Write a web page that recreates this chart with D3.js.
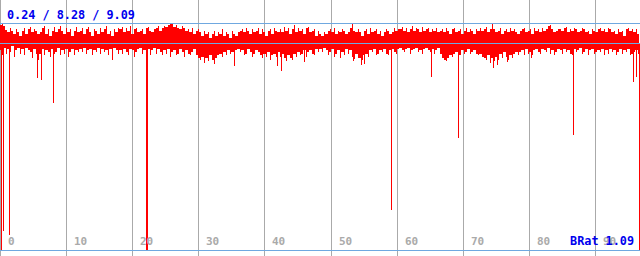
<!DOCTYPE html>
<html>
<head>
<meta charset="utf-8">
<script src="https://cdn.jsdelivr.net/npm/d3@7"></script>
<style>
  html, body { margin: 0; padding: 0; background: #fff; }
  svg { display: block; }
  text { font-family: "DejaVu Sans Mono", monospace; font-weight: bold; }
</style>
</head>
<body>
<div id="chart"></div>
<script>
// summary numbers shown top-left: min / avg / max
const stats = [0.24, 8.28, 9.09];
const bratLabel = 'BRat 1.09';
const xTicks = [0, 10, 20, 30, 40, 50, 60, 70, 80, 90];
const xMax = 96.8;

// per-sample high / low envelope of the signal
const sampleHi = [
  9.02, 9.04, 8.99, 8.81, 8.72, 8.90, 8.78, 8.65, 8.84, 8.72, 8.58, 8.78, 8.90, 8.65, 8.84, 8.95, 8.72, 8.84, 8.78, 8.65,
  8.72, 8.90, 8.99, 8.65, 8.84, 8.58, 8.78, 8.95, 8.72, 8.84, 8.99, 8.78, 8.65, 8.90, 8.72, 8.84, 8.58, 8.78, 8.95, 8.72,
  8.78, 8.90, 8.65, 8.84, 8.95, 8.72, 8.58, 8.84, 8.78, 8.65, 8.90, 8.72, 8.84, 8.99, 8.65, 8.78, 8.58, 8.84, 8.72, 8.90,
  8.84, 8.95, 8.72, 8.90, 8.78, 8.99, 8.65, 8.84, 8.90, 8.72, 8.78, 8.84, 8.65, 8.90, 8.95, 8.78, 8.72, 8.84, 8.90, 8.99,
  8.78, 8.90, 8.99, 8.95, 9.02, 9.08, 9.05, 8.95, 9.02, 8.90, 8.84, 8.99, 8.90, 8.78, 8.84, 8.72, 8.90, 8.65, 8.78, 8.84,
  8.72, 8.58, 8.78, 8.65, 8.72, 8.52, 8.65, 8.78, 8.58, 8.72, 8.65, 8.84, 8.58, 8.72, 8.65, 8.52, 8.78, 8.65, 8.58, 8.72,
  8.78, 8.84, 8.72, 8.90, 8.78, 8.65, 8.84, 8.72, 8.78, 8.90, 8.65, 8.84, 8.72, 8.58, 8.78, 8.84, 8.65, 8.90, 8.78, 8.72,
  8.84, 8.72, 8.95, 8.78, 8.90, 8.65, 8.84, 9.02, 8.72, 8.90, 8.78, 8.84, 8.65, 8.90, 8.95, 8.72, 8.78, 8.84, 8.58, 8.78,
  8.65, 8.58, 8.72, 8.65, 8.78, 8.84, 8.72, 8.90, 8.65, 8.78, 8.72, 8.84, 8.78, 8.65, 8.72, 8.90, 9.05, 8.78, 8.72, 8.84,
  8.72, 8.58, 8.78, 8.84, 8.65, 8.90, 8.72, 8.78, 8.84, 8.65, 8.78, 8.58, 8.72, 8.84, 8.78, 8.65, 8.72, 8.90, 8.78, 8.84,
  8.84, 8.95, 8.78, 8.90, 8.72, 8.84, 8.99, 8.78, 8.90, 8.84, 8.72, 8.95, 8.78, 8.84, 8.90, 8.72, 8.84, 8.78, 8.90, 8.72,
  8.78, 8.84, 8.72, 8.90, 8.78, 8.65, 8.84, 8.90, 8.72, 8.78, 8.84, 8.65, 8.78, 8.90, 8.72, 8.84, 8.78, 8.65, 8.84, 8.78,
  8.90, 8.78, 8.84, 8.95, 8.72, 8.84, 9.05, 8.84, 8.72, 8.78, 8.90, 8.65, 8.78, 8.84, 8.72, 8.90, 8.78, 8.84, 8.72, 8.65,
  8.78, 8.84, 8.90, 8.72, 8.78, 8.84, 8.65, 8.90, 8.78, 8.84, 8.72, 8.90, 8.78, 8.84, 8.99, 9.02, 8.84, 8.72, 8.78, 8.84,
  8.84, 8.78, 8.90, 8.95, 8.72, 8.84, 8.78, 8.90, 8.84, 8.72, 8.78, 8.90, 8.84, 8.72, 8.78, 8.65, 8.84, 8.78, 8.72, 8.84,
  8.90, 8.78, 8.84, 8.72, 8.90, 8.84, 8.72, 8.78, 8.65, 8.84, 8.72, 8.78, 8.58, 8.84, 8.90, 8.78, 8.84, 8.72, 8.84, 8.65
];
const sampleLo = [
  8.02, 7.84, 8.13, 7.90, 8.08, 7.96, 8.18, 7.78, 8.02, 8.13, 7.90, 8.08, 7.84, 8.13, 8.02, 7.96, 7.72, 8.08, 7.90, 7.65,
  7.90, 8.08, 7.84, 8.02, 7.96, 7.78, 8.08, 7.90, 7.96, 8.13, 7.84, 8.02, 7.90, 8.08, 7.78, 7.96, 8.08, 7.84, 8.02, 7.96,
  8.08, 7.96, 8.13, 7.90, 8.02, 8.08, 7.84, 8.02, 7.96, 8.13, 7.90, 8.08, 7.96, 8.02, 7.84, 8.08, 7.96, 8.13, 8.02, 7.90,
  8.02, 7.90, 8.08, 7.96, 7.84, 8.08, 8.02, 7.78, 7.96, 8.08, 8.13, 7.90, 8.02, 7.96, 8.08, 7.84, 8.02, 8.13, 7.90, 8.08,
  7.96, 7.84, 8.02, 7.90, 8.08, 7.78, 7.96, 8.02, 7.84, 7.90, 8.08, 7.96, 7.78, 8.02, 7.90, 7.84, 7.96, 8.08, 7.84, 7.72,
  7.65, 7.78, 7.55, 7.72, 7.60, 7.84, 7.65, 7.50, 7.72, 7.84, 7.90, 7.78, 7.96, 7.84, 8.02, 7.90, 7.96, 7.84, 8.02, 8.08,
  7.96, 8.02, 7.84, 7.90, 8.08, 7.96, 7.78, 7.90, 8.02, 7.96, 7.84, 7.72, 7.90, 7.78, 7.96, 7.65, 7.84, 7.90, 7.78, 7.96,
  7.78, 7.90, 7.72, 7.60, 7.84, 7.72, 7.65, 7.90, 7.78, 7.96, 7.84, 7.90, 8.02, 7.78, 7.96, 8.02, 7.90, 7.84, 8.08, 7.96,
  8.08, 7.96, 8.13, 8.02, 7.84, 7.96, 8.08, 7.78, 7.90, 8.02, 7.72, 7.96, 7.84, 8.08, 7.90, 8.02, 7.78, 7.68, 7.90, 7.72,
  7.72, 7.65, 7.84, 7.90, 7.78, 8.02, 7.96, 8.08, 7.84, 7.90, 8.02, 7.96, 8.08, 7.90, 7.84, 8.02, 8.08, 7.96, 7.90, 8.08,
  8.13, 8.02, 7.96, 8.08, 8.13, 7.90, 8.02, 8.08, 8.13, 7.96, 8.02, 7.90, 8.08, 8.13, 8.02, 7.96, 8.08, 7.90, 8.02, 8.13,
  7.90, 7.72, 7.65, 7.60, 7.72, 7.84, 7.78, 7.90, 7.96, 7.78, 7.84, 8.02, 7.90, 7.96, 8.08, 7.90, 7.96, 8.02, 7.90, 7.84,
  7.90, 7.78, 7.72, 7.65, 7.84, 7.55, 7.72, 7.60, 7.78, 7.65, 7.90, 7.72, 7.96, 7.78, 7.65, 7.84, 7.72, 7.90, 7.96, 7.84,
  7.96, 8.02, 7.84, 8.08, 7.90, 7.96, 7.84, 8.02, 8.08, 7.96, 7.90, 8.08, 8.02, 7.96, 8.13, 7.90, 8.02, 7.84, 7.96, 8.08,
  8.02, 7.90, 8.08, 7.96, 8.02, 7.90, 7.84, 8.08, 7.96, 8.02, 8.13, 7.90, 7.96, 8.08, 7.84, 8.02, 8.08, 7.90, 7.96, 8.02,
  7.96, 8.08, 7.84, 8.02, 7.90, 8.08, 7.96, 8.02, 7.84, 7.96, 8.08, 7.90, 8.02, 7.96, 8.08, 7.84, 7.90, 7.96, 8.02, 7.90
];

// single samples that drop far below the band
const spikeX = [0.1, 0.4, 1.4, 5.6, 6.2, 8.0, 16.9, 22.1, 22.2, 35.4, 41.9, 42.5, 46.0, 53.4, 54.6, 55.1,
                59.1, 65.2, 67.2, 69.2, 74.6, 75.2, 76.7, 80.3, 86.6, 95.7, 96.2, 96.6];
const spikeY = [0.24, 0.98, 0.82, 6.95, 6.87, 5.97, 7.65, 0.24, 0.24, 7.41, 7.41, 7.23, 7.58, 7.62, 7.44, 7.48,
                1.80, 7.00, 7.69, 4.62, 7.32, 7.45, 7.57, 7.71, 4.72, 6.80, 6.99, 0.24];

const width = 640, height = 256;

const x = d3.scaleLinear().domain([0, xMax]).range([0, width]);
const y = d3.scaleLinear().domain([stats[0], stats[2]]).range([250, 23]);
const px = v => Math.round(v) + 0.5;

const svg = d3.select('#chart')
    .append('svg')
    .attr('width', width)
    .attr('height', height);

// vertical grid
svg.append('g')
    .selectAll('line')
    .data(xTicks)
    .enter().append('line')
    .attr('x1', d => px(x(d)))
    .attr('x2', d => px(x(d)))
    .attr('y1', 0)
    .attr('y2', height)
    .attr('stroke', '#aaaaaa')
    .attr('stroke-width', 1)
    .attr('shape-rendering', 'crispEdges');

// signal: one pixel column per sample, plus a joining column that only
// reaches as far as the smaller of its two neighbours
const n = sampleHi.length;
const cols = [];
sampleHi.forEach((hi, i) => {
    const xs = Math.round(x(i * xMax / n));
    cols.push({x: xs, hi: hi, lo: sampleLo[i]});
    if (i < n - 1) {
        cols.push({
            x: xs + 1,
            hi: Math.min(hi, sampleHi[i + 1]),
            lo: Math.max(sampleLo[i], sampleLo[i + 1])
        });
    }
});

svg.append('g')
    .selectAll('rect')
    .data(cols)
    .enter().append('rect')
    .attr('x', d => d.x)
    .attr('width', 1)
    .attr('y', d => Math.round(y(d.hi)))
    .attr('height', d => Math.round(y(d.lo)) - Math.round(y(d.hi)))
    .attr('fill', '#ff0000')
    .attr('shape-rendering', 'crispEdges');

// deep spikes
svg.append('g')
    .selectAll('line')
    .data(spikeX)
    .enter().append('line')
    .attr('x1', d => px(x(d)))
    .attr('x2', d => px(x(d)))
    .attr('y1', y(stats[1]))
    .attr('y2', (d, i) => y(spikeY[i]))
    .attr('stroke', '#ff0000')
    .attr('stroke-width', 1)
    .attr('shape-rendering', 'crispEdges');

// max / avg / min lines
svg.append('g')
    .selectAll('line')
    .data(stats.slice().reverse())
    .enter().append('line')
    .attr('x1', 0)
    .attr('x2', width)
    .attr('y1', d => px(y(d) - 0.5))
    .attr('y2', d => px(y(d) - 0.5))
    .attr('stroke', '#6fa8e0')
    .attr('stroke-width', 1)
    .attr('shape-rendering', 'crispEdges');

// tick labels
svg.append('g')
    .selectAll('text')
    .data(xTicks)
    .enter().append('text')
    .attr('x', d => Math.round(x(d)) + 8)
    .attr('y', 245)
    .attr('fill', '#aaaaaa')
    .style('font-size', '11px')
    .text(d => d);

svg.append('text')
    .attr('x', 7)
    .attr('y', 19)
    .attr('fill', '#0000ee')
    .style('font-size', '11.8px')
    .text(stats.map(d => d.toFixed(2)).join(' / '));

svg.append('text')
    .attr('x', 634)
    .attr('y', 245)
    .attr('text-anchor', 'end')
    .attr('fill', '#0000ee')
    .style('font-size', '11.8px')
    .text(bratLabel);
</script>
</body>
</html>
